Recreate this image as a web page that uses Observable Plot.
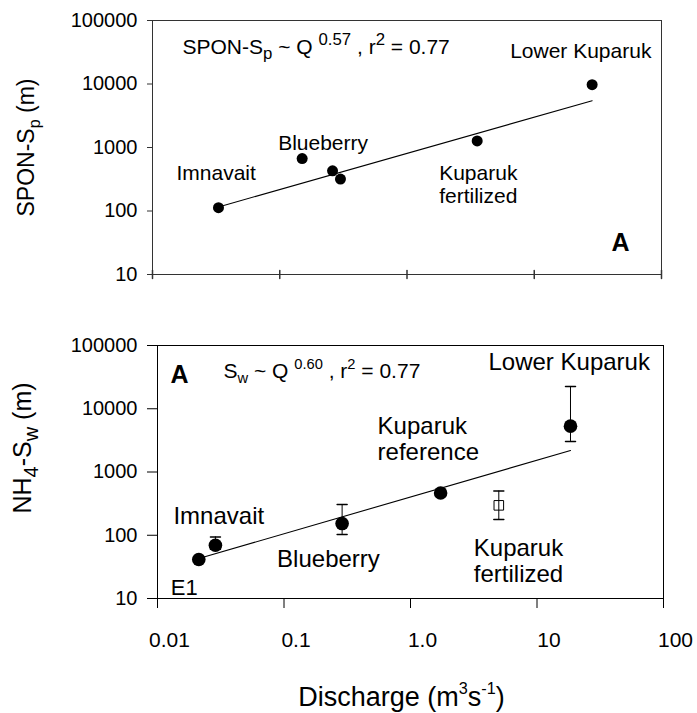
<!DOCTYPE html>
<html><head><meta charset="utf-8">
<script src="https://cdn.jsdelivr.net/npm/d3@7"></script>
<script src="https://cdn.jsdelivr.net/npm/@observablehq/plot@0.6"></script>
<style>
body{margin:0;background:#fff}
#chart{width:697px;height:713px;overflow:hidden}
#chart svg{display:block}
</style>
</head><body><div id="chart"></div>
<script>
// ---- axis ticks ----
const xTicks = [0.01, 0.1, 1, 10, 100];
const xTickLabels = ["0.01", "0.1", "1.0", "10", "100"];
const yTicks = [10, 100, 1000, 10000, 100000];
const yTickLabels = ["10", "100", "1000", "10000", "100000"];

// ---- panel 1: SPON-Sp vs discharge ----
const sponSite = ["Imnavait", "Blueberry", "site 3", "site 4", "Kuparuk fertilized", "Lower Kuparuk"];
const sponQ = [0.033, 0.15, 0.26, 0.30, 3.56, 28.5];
const sponS = [113, 670, 430, 318, 1270, 9750];
const sponFitQ = [0.033, 28.5];
const sponFitS = [116, 5450];
const sponEquation = "SPON-Sp ~ Q 0.57 , r2 = 0.77";

// ---- panel 2: NH4-Sw vs discharge ----
const nhSite = ["E1", "Imnavait", "Blueberry", "Kuparuk reference", "Lower Kuparuk"];
const nhQ = [0.0212, 0.0287, 0.288, 1.73, 18.4];
const nhS = [41.3, 69.5, 153, 466, 5310];
const nhLo = [null, 60, 103, null, 3040];
const nhHi = [null, 94, 305, null, 22500];
const fertSite = ["Kuparuk fertilized"];
const fertQ = [4.99];
const fertS = [297];
const fertLo = [177];
const fertHi = [501];
const nhFitQ = [0.0212, 18.4];
const nhFitS = [42.8, 2190];
const nhEquation = "Sw ~ Q 0.60 , r2 = 0.77";

const FONT = "'Liberation Sans', Arial, Helvetica, sans-serif";

const spon = sponSite.map((name, i) => ({name, q: sponQ[i], s: sponS[i]}));
const sponFit = sponFitQ.map((q, i) => ({q, s: sponFitS[i]}));
const nh = nhSite.map((name, i) => ({name, q: nhQ[i], s: nhS[i], lo: nhLo[i], hi: nhHi[i]}));
const fert = fertSite.map((name, i) => ({name, q: fertQ[i], s: fertS[i], lo: fertLo[i], hi: fertHi[i]}));
const nhFit = nhFitQ.map((q, i) => ({q, s: nhFitS[i]}));
const nhErr = nh.filter(d => d.hi != null).concat(fert);

const vTick = {draw(ctx, l) { ctx.moveTo(0, -l / 2); ctx.lineTo(0, l / 2); }};
const hCap = {draw(ctx, l) { ctx.moveTo(-l / 2, 0); ctx.lineTo(l / 2, 0); }};

function site(arr, name) { return arr.filter(d => d.name === name); }
function lab(arr, name, text, dx, dy, fontSize) {
  return Plot.text(site(arr, name), {x: "q", y: "s", text: () => text, dx, dy,
    textAnchor: "start", lineAnchor: "bottom", fontSize, lineHeight: 1.1, fill: "black"});
}

// rich text: rewrite a plain text element into tspans with sub/superscripts
function rich(root, plain, parts, fontSize, scale = 0.65) {
  d3.select(root).selectAll("text").filter(function () { return this.textContent === plain; })
    .each(function () {
      const t = d3.select(this);
      t.text(null);
      let shift = 0;
      for (const [s, kind] of parts) {
        const target = kind === "sub" ? 0.28 * fontSize : kind === "sup" ? -0.42 * fontSize : 0;
        const ts = t.append("tspan").text(s);
        if (kind) ts.attr("font-size", scale * fontSize);
        if (target !== shift) ts.attr("dy", target - shift);
        shift = target;
      }
    });
}

const p1 = Plot.plot({
  width: 697, height: 300,
  marginTop: 20, marginLeft: 152, marginRight: 36, marginBottom: 26,
  style: {fontFamily: FONT, fontSize: "20px", color: "black", background: "white", overflow: "visible"},
  x: {type: "log", domain: [0.01, 100], axis: null},
  y: {type: "log", domain: [10, 100000]},
  marks: [
    Plot.frame({stroke: "#333"}),
    Plot.axisY(yTicks, {tickSize: 5, tickPadding: 10, tickFormat: d => yTickLabels[yTicks.indexOf(d)], label: null, stroke: "#333"}),
    Plot.vector(xTicks, {x: d => d, frameAnchor: "bottom", length: 8, anchor: "start", shape: vTick, stroke: "#333"}),
    Plot.line(sponFit, {x: "q", y: "s", stroke: "black", strokeWidth: 1.1}),
    Plot.dot(spon, {x: "q", y: "s", r: 5.5, fill: "black"}),
    Plot.text([sponEquation], {frameAnchor: "top-left", dx: 30, dy: 33, textAnchor: "start", lineAnchor: "bottom", fontSize: 21}),
    Plot.text(["A"], {frameAnchor: "bottom-right", dx: -32, dy: -24, textAnchor: "end", lineAnchor: "bottom", fontSize: 25, fontWeight: "bold"}),
    Plot.text(["SPON-Sp (m)"], {frameAnchor: "left", dx: -119, rotate: -90, textAnchor: "middle", lineAnchor: "bottom", fontSize: 23}),
    lab(spon, "Lower Kuparuk", "Lower Kuparuk", -82, -27, 21),
    lab(spon, "Blueberry", "Blueberry", -24, -9, 21),
    lab(spon, "Imnavait", "Imnavait", -42, -28, 21),
    lab(spon, "Kuparuk fertilized", "Kuparuk\nfertilized", -38, 62, 21)
  ]
});
rich(p1, sponEquation, [["SPON-S"], ["p", "sub", ], [" ~ Q "], ["0.57", "sup"], [" , r"], ["2", "sup"], [" = 0.77"]], 21, 0.8);
rich(p1, "SPON-Sp (m)", [["SPON-S"], ["p", "sub"], [" (m)"]], 23, 0.7);

const p2 = Plot.plot({
  width: 697, height: 413,
  marginTop: 45, marginLeft: 157, marginRight: 34, marginBottom: 115,
  style: {fontFamily: FONT, fontSize: "20px", color: "black", background: "white", overflow: "visible"},
  x: {type: "log", domain: [0.01, 100]},
  y: {type: "log", domain: [10, 100000]},
  marks: [
    Plot.frame({stroke: "black"}),
    Plot.axisY(yTicks, {tickSize: 10, tickPadding: 10, tickFormat: d => yTickLabels[yTicks.indexOf(d)], label: null}),
    Plot.axisX(xTicks, {tickSize: 10, tickFormat: () => "", label: null}),
    Plot.text(xTicks, {x: d => d, text: d => xTickLabels[xTicks.indexOf(d)], frameAnchor: "bottom", dy: 48, dx: 12, fontSize: 21}),
    Plot.line(nhFit, {x: "q", y: "s", stroke: "black", strokeWidth: 1.1}),
    Plot.ruleX(nhErr, {x: "q", y1: "lo", y2: "hi", stroke: "black", strokeWidth: 1}),
    Plot.vector(nhErr, {x: "q", y: "hi", length: 10, anchor: "start", shape: hCap, stroke: "black"}),
    Plot.vector(nhErr, {x: "q", y: "lo", length: 10, anchor: "start", shape: hCap, stroke: "black"}),
    Plot.dot(fert, {x: "q", y: "s", symbol: "square", r: 5.4, stroke: "black", fill: "none", strokeWidth: 1}),
    Plot.dot(nh, {x: "q", y: "s", r: 6.8, fill: "black"}),
    Plot.text([nhEquation], {frameAnchor: "top-left", dx: 66, dy: 32, textAnchor: "start", lineAnchor: "bottom", fontSize: 21}),
    Plot.text(["A"], {frameAnchor: "top-left", dx: 13, dy: 37, textAnchor: "start", lineAnchor: "bottom", fontSize: 25, fontWeight: "bold"}),
    Plot.text(["NH4-Sw (m)"], {frameAnchor: "left", dx: -127, dy: -24, rotate: -90, textAnchor: "middle", lineAnchor: "bottom", fontSize: 25}),
    Plot.text(["Discharge (m3s-1)"], {frameAnchor: "bottom", dx: -9, dy: 107, textAnchor: "middle", lineAnchor: "bottom", fontSize: 27}),
    lab(nh, "Lower Kuparuk", "Lower Kuparuk", -82, -56, 24),
    lab(nh, "Kuparuk reference", "Kuparuk\nreference", -63, -33, 24),
    lab(fert, "Kuparuk fertilized", "Kuparuk\nfertilized", -25, 77, 24),
    lab(nh, "Blueberry", "Blueberry", -65, 43, 24),
    lab(nh, "Imnavait", "Imnavait", -42, -21, 24),
    lab(nh, "E1", "E1", -28, 35, 22)
  ]
});
rich(p2, nhEquation, [["S"], ["w", "sub"], [" ~ Q "], ["0.60", "sup"], [" , r"], ["2", "sup"], [" = 0.77"]], 21, 0.7);
rich(p2, "NH4-Sw (m)", [["NH"], ["4", "sub"], ["-S"], ["w", "sub"], [" (m)"]], 25, 0.8);
rich(p2, "Discharge (m3s-1)", [["Discharge (m"], ["3", "sup"], ["s"], ["-1", "sup"], [")"]], 27, 0.6);

document.getElementById("chart").append(p1, p2);
</script>
</body></html>
